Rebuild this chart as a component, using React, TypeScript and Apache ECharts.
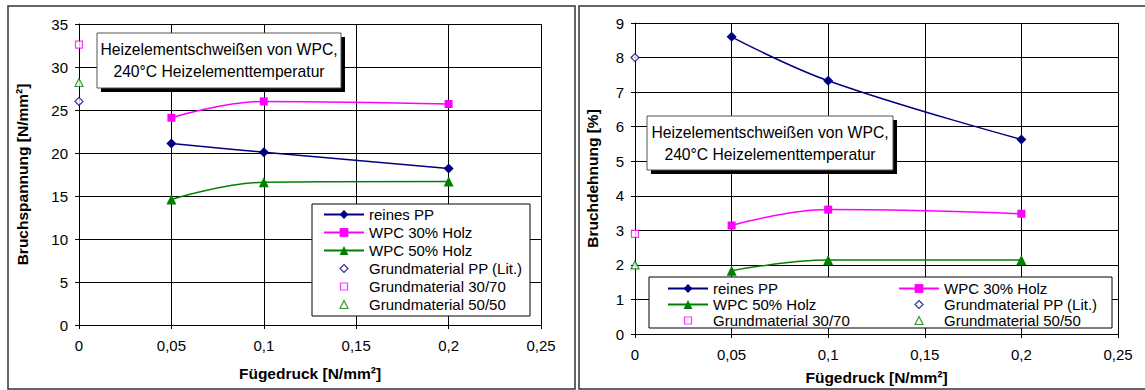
import React, { useEffect, useRef } from "react";
import * as echarts from "echarts";

// ---- data ----
const pressure = [0.05, 0.1, 0.2]; // Fügedruck [N/mm²]
const basePressure = 0;

const stressPP = [21.1, 20.1, 18.2];
const stressWPC30 = [24.1, 26.0, 25.7];
const stressWPC50 = [14.6, 16.6, 16.7];
const stressBase = [26.0, 32.6, 28.2]; // PP (Lit.), 30/70, 50/50

const strainPP = [8.6, 7.33, 5.63];
const strainWPC30 = [3.14, 3.6, 3.48];
const strainWPC50 = [1.83, 2.14, 2.14];
const strainBase = [8.0, 2.9, 2.0];

const lineNames = ["reines PP", "WPC 30% Holz", "WPC 50% Holz"];
const baseNames = ["Grundmaterial PP (Lit.)", "Grundmaterial 30/70", "Grundmaterial 50/50"];
const colors = ["#000080", "#FF00FF", "#008000"];
const symbols = ["diamond", "rect", "triangle"];
const symbolSizes = [10, 8, 10];
const hollowSizes = [8, 7, 8];
const hollowIcons = [
  "path://M0 0M11 11M5.5 1.5L9.5 5.5L5.5 9.5L1.5 5.5Z",
  "path://M0 0M11 11M2 2L9 2L9 9L2 9Z",
  "path://M0 0M11 11M5.5 1.5L9.5 9.5L1.5 9.5Z",
];

const noteText = "Heizelementschweißen von WPC,\n240°C Heizelementtemperatur";
const FONT = "'Liberation Sans', Arial, sans-serif";

const fmtX = (v: number) => String(+v.toFixed(2)).replace(".", ",");

function buildSeries(idx: number, lines: number[][], base: number[]) {
  const out: any[] = [];
  lines.forEach((vals, i) => {
    out.push({
      type: "line",
      name: lineNames[i],
      xAxisIndex: idx,
      yAxisIndex: idx,
      data: pressure.map((x, k) => [x, vals[k]]),
      smooth: 0.4,
      symbol: symbols[i],
      symbolSize: symbolSizes[i],
      showAllSymbol: true,
      lineStyle: { color: colors[i], width: 1.5 },
      itemStyle: { color: colors[i] },
    });
  });
  base.forEach((v, i) => {
    out.push({
      type: "scatter",
      name: baseNames[i],
      xAxisIndex: idx,
      yAxisIndex: idx,
      data: [[basePressure, v]],
      symbol: symbols[i],
      symbolSize: hollowSizes[i],
      clip: false,
      itemStyle: { color: "#fff", borderColor: colors[i], borderWidth: 1.2 },
    });
  });
  return out;
}

function legendItem(name: string) {
  const bi = baseNames.indexOf(name);
  if (bi >= 0) {
    return {
      name,
      icon: hollowIcons[bi],
      itemStyle: { color: "#fff", borderColor: colors[bi], borderWidth: 1.2 },
    };
  }
  return { name };
}

function xAxisCfg(gridIndex: number, nameGap: number) {
  return {
    type: "value",
    gridIndex,
    min: 0,
    max: 0.25,
    interval: 0.05,
    name: "Fügedruck [N/mm²]",
    nameLocation: "middle",
    nameGap,
    nameTextStyle: { fontFamily: FONT, fontSize: 15.5, fontWeight: "bold", color: "#000" },
    axisLine: { show: true, lineStyle: { color: "#000", width: 1 } },
    axisTick: { show: true, length: 4, lineStyle: { color: "#000" } },
    axisLabel: { fontFamily: FONT, fontSize: 15, color: "#000", margin: 13, formatter: fmtX },
    splitLine: { show: true, lineStyle: { color: "#000", width: 1 } },
  };
}

function yAxisCfg(gridIndex: number, name: string, max: number, interval: number, nameGap: number) {
  return {
    type: "value",
    gridIndex,
    min: 0,
    max,
    interval,
    name,
    nameLocation: "middle",
    nameGap,
    nameTextStyle: { fontFamily: FONT, fontSize: 15.5, fontWeight: "bold", color: "#000" },
    axisLine: { show: true, lineStyle: { color: "#000", width: 1 } },
    axisTick: { show: true, length: 4, lineStyle: { color: "#000" } },
    axisLabel: { fontFamily: FONT, fontSize: 15, color: "#000", margin: 11 },
    splitLine: { show: true, lineStyle: { color: "#000", width: 1 } },
  };
}

function noteBox(x: number, y: number, w: number, h: number) {
  return {
    type: "group",
    z: 10,
    children: [
      { type: "rect", z: 10, shape: { x: x + 4, y: y + 4, width: w, height: h }, style: { fill: "#000" } },
      { type: "rect", z: 11, shape: { x, y, width: w, height: h }, style: { fill: "#fff", stroke: "#555", lineWidth: 1 } },
      {
        type: "text",
        z: 12,
        style: {
          x: x + w / 2,
          y: y + h / 2,
          text: noteText,
          align: "center",
          verticalAlign: "middle",
          fontFamily: FONT,
          fontSize: 15.7,
          lineHeight: 22,
          fill: "#000",
        },
      },
    ],
  };
}

export default function App() {
  const ref = useRef<HTMLDivElement>(null);
  useEffect(() => {
    if (!ref.current) return;
    const chart = echarts.init(ref.current, undefined, { renderer: "svg" });
    const legendCommon = {
      orient: "vertical",
      itemWidth: 40,
      itemHeight: 11,
      selectedMode: false,
      padding: 0,
      z: 20,
      textStyle: { fontFamily: FONT, fontSize: 15, lineHeight: 14, color: "#000" },
    };
    const option: any = {
      animation: false,
      backgroundColor: "#fff",
      grid: [
        { left: 79, top: 24, width: 462, height: 301 },
        { left: 635, top: 23, width: 483, height: 311 },
      ],
      xAxis: [xAxisCfg(0, 40), xAxisCfg(1, 35)],
      yAxis: [
        yAxisCfg(0, "Bruchspannung [N/mm²]", 35, 5, 49),
        yAxisCfg(1, "Bruchdehnung [%]", 9, 1, 35),
      ],
      legend: [
        { ...legendCommon, left: 323, top: 207, itemGap: 3, data: [...lineNames, ...baseNames].map(legendItem) },
        { ...legendCommon, left: 667, top: 281, itemGap: 1, data: [lineNames[0], lineNames[2], baseNames[1]].map(legendItem) },
        { ...legendCommon, left: 898, top: 281, itemGap: 1, data: [lineNames[1], baseNames[0], baseNames[2]].map(legendItem) },
      ],
      graphic: [
        { type: "rect", z: 0, shape: { x: 8, y: 6, width: 567, height: 383 }, style: { fill: "none", stroke: "#333", lineWidth: 1.5 } },
        { type: "rect", z: 0, shape: { x: 579, y: 6, width: 600, height: 383 }, style: { fill: "none", stroke: "#333", lineWidth: 1.5 } },
        { type: "rect", z: 15, shape: { x: 312, y: 204, width: 218, height: 112 }, style: { fill: "#fff", stroke: "#000", lineWidth: 1 } },
        { type: "rect", z: 15, shape: { x: 649, y: 277, width: 463, height: 51 }, style: { fill: "#fff", stroke: "#000", lineWidth: 1 } },
        noteBox(97, 33, 244, 55),
        noteBox(647, 116, 246, 54),
      ],
      series: [
        ...buildSeries(0, [stressPP, stressWPC30, stressWPC50], stressBase),
        ...buildSeries(1, [strainPP, strainWPC30, strainWPC50], strainBase),
      ],
    };
    chart.setOption(option);
    return () => chart.dispose();
  }, []);
  return (
    <div
      ref={ref}
      style={{ position: "fixed", left: 0, top: 0, width: 1145, height: 390, background: "#fff" }}
    />
  );
}
